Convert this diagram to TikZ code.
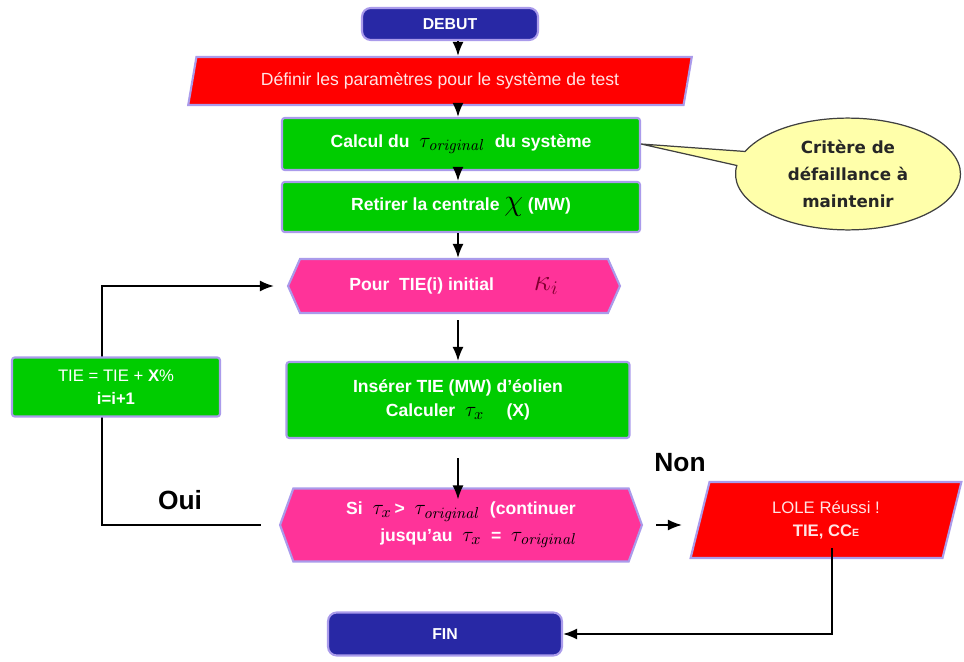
\documentclass[tikz,border=0pt]{standalone}
\usepackage[no-math]{fontspec}
\setmainfont{Liberation Sans}
\newfontfamily\bullefont{DejaVu Sans}
\usetikzlibrary{shapes.geometric,shapes.symbols,shapes.callouts,positioning,arrows.meta}

\definecolor{vert}{RGB}{0,204,0}
\definecolor{rose}{RGB}{255,51,153}
\definecolor{bleu}{RGB}{40,40,165}
\definecolor{lueur}{RGB}{170,155,235}
\definecolor{rosepale}{RGB}{255,228,228}
\definecolor{jaune}{RGB}{255,255,170}
\definecolor{kappa}{RGB}{128,0,48}

\newcommand{\tauorig}{{\fontsize{13}{13}\selectfont\color{black}$\tau_{\mathit{original}}$}}
\newcommand{\taux}{{\fontsize{13}{13}\selectfont\color{black}$\tau_{x}$}}

\begin{document}
\begin{tikzpicture}[x=0.02cm, y=-0.02cm, >={Latex[length=2.8mm,width=2.2mm]},
    box/.style={draw=lueur, line width=1.2pt, fill=vert, text=white, align=center,
      font=\fontsize{10}{13.6}\selectfont\bfseries, rounded corners=1.5pt, inner sep=0pt},
    term/.style={draw=lueur, line width=1.2pt, fill=bleu, text=white,
      font=\fontsize{9}{11}\selectfont\bfseries, rounded corners=5pt, inner sep=0pt},
    para/.style={trapezium, trapezium stretches=true, draw=lueur, line width=1.2pt,
      fill=red, text=rosepale, align=center, inner sep=0pt},
    hexa/.style={signal, signal to=west and east, draw=lueur, line width=1.2pt,
      fill=rose, text=white, align=center, font=\fontsize{10}{15}\selectfont\bfseries, inner sep=0pt},
    fleche/.style={->, line width=1pt},
    choix/.style={font=\fontsize{15}{17}\selectfont\bfseries}]

    \useasboundingbox (0,0) rectangle (964,662);
    \coordinate (axe) at (458,0);
    \coordinate (boucle) at (102,0);
    \coordinate (sortie) at (832,0);

    % chaine principale
    \node[term, minimum width=3.52cm, minimum height=0.64cm] (debut) at (450,24) {DEBUT};
    \node[para, trapezium left angle=70, trapezium right angle=110, minimum width=10.1cm,
      minimum height=0.96cm, font=\fontsize{10}{12}\selectfont] (param) at (440,81)
      {Définir les paramètres pour le système de test};
    \node[box, minimum width=7.16cm, minimum height=1.04cm] (calcul) at (461,144)
      {Calcul du \ \tauorig\ \ du système};
    \node[box, minimum width=7.16cm, minimum height=1.0cm] (retirer) at (461,207)
      {Retirer la centrale {\fontsize{16}{16}\selectfont\color{black}$\chi$} (MW)};
    \node[hexa, signal pointer angle=132, minimum width=6.64cm, minimum height=1.08cm] (pour) at (454,286)
      {Pour \ TIE(i) initial \qquad {\fontsize{16}{16}\selectfont\color{kappa}$\kappa_i$}};
    \node[box, minimum width=6.86cm, minimum height=1.52cm] (inserer) at (458,400)
      {Insérer TIE (MW) d'éolien\\ Calculer \ \taux\ \quad (X)};
    \node[hexa, signal pointer angle=140, minimum width=7.24cm, minimum height=1.46cm] (test) at (461,525)
      {Si \ \taux\,> \ \tauorig\ \ (continuer\\ \qquad jusqu'au \ \taux\ \ = \ \tauorig};
    \node[para, trapezium left angle=77, trapezium right angle=103, minimum width=5.44cm,
      minimum height=1.52cm, font=\fontsize{9.5}{13}\selectfont] (lole) at (826,520)
      {LOLE Réussi !\\ \textbf{TIE, CC}{\fontsize{6}{6}\selectfont\textbf{E}}};
    \node[term, minimum width=4.68cm, minimum height=0.86cm] (fin) at (445,634) {FIN};

    % bulle
    \node[ellipse callout, draw=black!75, fill=jaune, line width=0.7pt,
      callout absolute pointer={(calcul.east)}, minimum width=4.5cm, minimum height=2cm,
      align=center, text=black!85, font=\bullefont\bfseries\fontsize{9.5}{15.3}\selectfont]
      (critere) at (848,174) {Critère de\\ défaillance à\\ maintenir};

    \node[choix] (oui) at (180,500) {Oui};
    \node[choix] (non) at (680,463) {Non};

    % fleches
    \draw[fleche] (debut.south -| axe) -- (param.north -| axe);
    \draw[fleche] (param.south -| axe) -- (calcul.north -| axe);
    \draw[fleche] (calcul.south -| axe) -- (retirer.north -| axe);
    \draw[fleche] (retirer.south -| axe) -- (pour.north -| axe);
    \draw[fleche, shorten <=0.12cm] (pour.south -| axe) -- (inserer.north -| axe);
    \draw[fleche, shorten <=0.38cm, shorten >=-0.24cm] (inserer.south -| axe) -- (test.north -| axe);
    \draw[fleche, shorten <=0.26cm, shorten >=0.34cm] (test.east) -- (test.east -| lole.west);
    \draw[fleche, shorten <=0.56cm] (lole.center -| sortie) |- (fin.east);

    % boucle Oui
    \draw[fleche, shorten <=0.36cm, shorten >=0.26cm] (test.west) -- (test.west -| boucle)
      -- (pour.west -| boucle) -- (pour.west);
    \node[box, minimum width=4.16cm, minimum height=1.18cm, font=\fontsize{9.5}{13}\selectfont] (increment) at (116,387)
      {TIE = TIE + \textbf{X}\%\\ \textbf{i=i+1}};
  \end{tikzpicture}
\end{document}
